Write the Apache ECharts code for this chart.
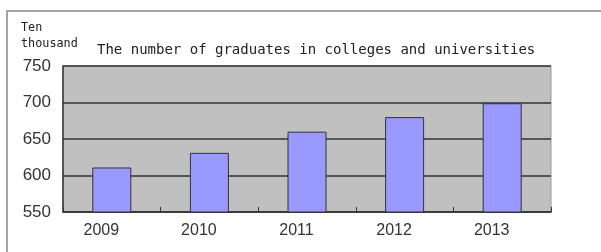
<!DOCTYPE html>
<html>
<head>
    <meta charset="utf-8">
    <title>ECharts</title>
    <script src="https://cdn.jsdelivr.net/npm/echarts@6/dist/echarts.min.js" type="text/javascript"></script>
</head>
<body style="margin:0;background:#fff;">
<div id="div1" style="width: 601px;height:252px;"></div>
<script type="text/javascript">
    // data
    var years = ['2009', '2010', '2011', '2012', '2013'];
    var graduates = [611, 631, 660, 680, 699];
    var yMin = 550, yMax = 750, yStep = 50;

    var monoFont = '"DejaVu Sans Mono", monospace';

    var myChart1 = echarts.init(document.getElementById('div1'));
    var option1 = {
        backgroundColor: '#fff',
        animation: false,
        title: [{
            text: 'The number of graduates in colleges and universities',
            left: 92,
            top: 38,
            textStyle: {fontFamily: monoFont, fontSize: 14, fontWeight: 'normal', color: '#222'}
        }, {
            text: 'Ten\nthousand',
            left: 16,
            top: 15,
            textStyle: {fontFamily: monoFont, fontSize: 11.8, fontWeight: 'normal', color: '#222', lineHeight: 16}
        }],
        graphic: [{
            type: 'rect',
            shape: {x: 7, y: 11, width: 800, height: 400},
            style: {fill: 'none', stroke: '#888', lineWidth: 1.5},
            silent: true
        }],
        grid: {
            left: 63, right: 50, top: 66, bottom: 40,
            show: true,
            backgroundColor: '#c0c0c0',
            borderColor: '#999',
            borderWidth: 1
        },
        xAxis: {
            type: 'category',
            data: years,
            axisLine: {lineStyle: {color: '#333', width: 1.5}},
            axisTick: {show: true, inside: true, length: 5, lineStyle: {color: '#333'}},
            axisLabel: {
                margin: 11,
                padding: [0, 21, 0, 0],
                fontFamily: 'Liberation Sans',
                fontSize: 16,
                color: '#333'
            }
        },
        yAxis: {
            type: 'value',
            min: yMin,
            max: yMax,
            interval: yStep,
            axisLine: {show: true, lineStyle: {color: '#333', width: 1.5}},
            axisTick: {show: false},
            axisLabel: {margin: 12, fontFamily: 'Liberation Sans', fontSize: 17, color: '#333'},
            splitLine: {lineStyle: {color: '#333', width: 1.5}}
        },
        series: [{
            data: graduates,
            type: 'bar',
            barWidth: 39,
            itemStyle: {color: '#9999ff', borderColor: '#333', borderWidth: 1}
        }]
    };
    myChart1.setOption(option1);
</script>
</body>
</html>
